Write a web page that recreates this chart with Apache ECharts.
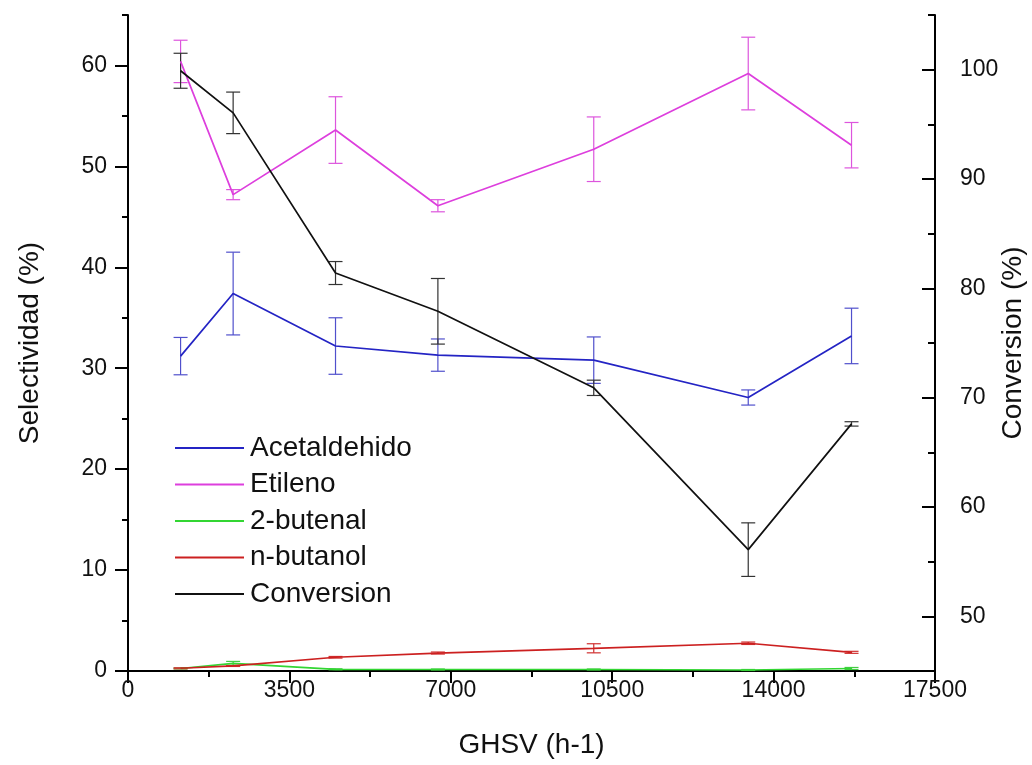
<!DOCTYPE html>
<html>
<head>
<meta charset="utf-8">
<script src="https://cdn.jsdelivr.net/npm/echarts@6/dist/echarts.min.js"></script>
<style>html,body{margin:0;padding:0;background:#fff;}#c{width:1032px;height:765px;}</style>
</head>
<body>
<div id="c"></div>
<script>
const ghsv = [1140, 2280, 4500, 6720, 10100, 13450, 15690];
const acetaldehido = [31.2, 37.4, 32.2, 31.3, 30.8, 27.1, 33.2];
const acetaldehidoErr = [1.85, 4.1, 2.8, 1.6, 2.3, 0.75, 2.75];
const etileno = [60.4, 47.2, 53.6, 46.1, 51.7, 59.2, 52.1];
const etilenoErr = [2.1, 0.5, 3.3, 0.6, 3.2, 3.6, 2.25];
const butenal = [0.25, 0.75, 0.17, 0.15, 0.15, 0.1, 0.25];
const butenalErr = [0.05, 0.2, 0.05, 0.05, 0.05, 0.05, 0.1];
const butanol = [0.27, 0.5, 1.36, 1.78, 2.25, 2.75, 1.85];
const butanolErr = [0.05, 0.05, 0.08, 0.1, 0.45, 0.12, 0.1];
const conversion = [99.9, 96.05, 81.4, 77.9, 70.9, 56.1, 67.6];
const conversionErr = [1.6, 1.9, 1.05, 3.0, 0.7, 2.45, 0.2];

const leftMajor = [0, 10, 20, 30, 40, 50, 60];
const leftMinor = [5, 15, 25, 35, 45, 55, 65];
const rightMajor = [50, 60, 70, 80, 90, 100];
const rightMinor = [45, 55, 65, 75, 85, 95, 105];

const FONT = 'Liberation Sans, Arial, sans-serif';

function pairs(vals) { return ghsv.map((x, i) => [x, vals[i]]); }
function triples(vals, errs) { return ghsv.map((x, i) => [x, vals[i], errs[i]]); }

function lineSeries(name, vals, color, yIdx, z) {
  return {
    name: name, type: 'line', yAxisIndex: yIdx, data: pairs(vals),
    symbol: 'none', lineStyle: { color: color, width: 1.7 }, itemStyle: { color: color },
    z: z, animation: false
  };
}
function errSeries(name, vals, errs, color, yIdx, z) {
  return {
    name: name + ' err', type: 'custom', yAxisIndex: yIdx, data: triples(vals, errs),
    encode: { x: 0, y: 1 }, z: z, animation: false, silent: true,
    renderItem: function (params, api) {
      const x = api.value(0), y = api.value(1), e = api.value(2);
      const t = api.coord([x, y + e]);
      const b = api.coord([x, y - e]);
      const h = 7;
      const st = { stroke: color, lineWidth: 1.2 };
      return {
        type: 'group',
        children: [
          { type: 'line', shape: { x1: t[0], y1: t[1], x2: b[0], y2: b[1] }, style: st },
          { type: 'line', shape: { x1: t[0] - h, y1: t[1], x2: t[0] + h, y2: t[1] }, style: st },
          { type: 'line', shape: { x1: b[0] - h, y1: b[1], x2: b[0] + h, y2: b[1] }, style: st }
        ]
      };
    }
  };
}

const cBlue = '#2424c4', cMag = '#dd3fdd', cGreen = '#33d633', cRed = '#cc2020', cBlack = '#111111';
const axisLineStyle = { color: '#000', width: 2 };

const chart = echarts.init(document.getElementById('c'));
chart.setOption({
  backgroundColor: '#ffffff',
  animation: false,
  grid: { left: 128, right: 97, top: 15, bottom: 94, containLabel: false, outerBoundsMode: 'none' },
  legend: {
    left: 170, top: 428, orient: 'vertical', icon: 'rect',
    itemWidth: 69, itemHeight: 2, itemGap: 6.5,
    textStyle: { fontFamily: FONT, fontSize: 28, lineHeight: 30, color: '#111', padding: [0, 0, 0, 1] },
    data: ['Acetaldehido', 'Etileno', '2-butenal', 'n-butanol', 'Conversion']
  },
  xAxis: {
    type: 'value', min: 0, max: 17500, interval: 3500,
    name: 'GHSV (h-1)', nameLocation: 'middle', nameGap: 60, nameMoveOverlap: false,
    nameTextStyle: { fontFamily: FONT, fontSize: 28, color: '#111', verticalAlign: 'top' },
    axisLine: { show: true, onZero: false, lineStyle: axisLineStyle },
    axisTick: { show: true, length: 12, lineStyle: { color: '#000', width: 2 } },
    minorTick: { show: true, splitNumber: 2, length: 6, lineStyle: { color: '#000', width: 2 } },
    axisLabel: { fontFamily: FONT, fontSize: 23, color: '#111', margin: 8, formatter: function (v) { return String(v); } },
    splitLine: { show: false }
  },
  yAxis: [
    {
      type: 'value', min: 0, max: 65, position: 'left',
      name: 'Selectividad (%)', nameLocation: 'middle', nameGap: 84, nameRotate: 90, nameMoveOverlap: false,
      nameTextStyle: { fontFamily: FONT, fontSize: 28, color: '#111' },
      axisLine: { show: true, onZero: false, lineStyle: axisLineStyle },
      axisTick: { show: true, length: 13, customValues: leftMajor, lineStyle: { color: '#000', width: 2 } },
      axisLabel: { fontFamily: FONT, fontSize: 23, color: '#111', margin: 21, customValues: leftMajor },
      splitLine: { show: false }
    },
    {
      type: 'value', min: 45, max: 105, position: 'right',
      name: 'Conversion (%)', nameLocation: 'middle', nameGap: 64, nameRotate: 90, nameMoveOverlap: false,
      nameTextStyle: { fontFamily: FONT, fontSize: 28, color: '#111' },
      axisLine: { show: true, onZero: false, lineStyle: axisLineStyle },
      axisTick: { show: true, inside: true, length: 13, customValues: rightMajor, lineStyle: { color: '#000', width: 2 } },
      axisLabel: { fontFamily: FONT, fontSize: 23, color: '#111', margin: 25, customValues: rightMajor },
      splitLine: { show: false }
    },
    {
      type: 'value', min: 0, max: 65, position: 'left',
      axisLine: { show: false },
      axisTick: { show: true, length: 6, customValues: leftMinor, lineStyle: { color: '#000', width: 2 } },
      axisLabel: { show: false },
      splitLine: { show: false }
    },
    {
      type: 'value', min: 45, max: 105, position: 'right',
      axisLine: { show: false },
      axisTick: { show: true, inside: true, length: 7, customValues: rightMinor, lineStyle: { color: '#000', width: 2 } },
      axisLabel: { show: false },
      splitLine: { show: false }
    }
  ],
  series: [
    errSeries('Acetaldehido', acetaldehido, acetaldehidoErr, '#5050cc', 0, 2),
    errSeries('Etileno', etileno, etilenoErr, '#dd55dd', 0, 2),
    errSeries('2-butenal', butenal, butenalErr, '#44cc44', 0, 2),
    errSeries('n-butanol', butanol, butanolErr, '#d03030', 0, 2),
    errSeries('Conversion', conversion, conversionErr, '#333333', 1, 2),
    lineSeries('Acetaldehido', acetaldehido, cBlue, 0, 3),
    lineSeries('Etileno', etileno, cMag, 0, 3),
    lineSeries('2-butenal', butenal, cGreen, 0, 3),
    lineSeries('n-butanol', butanol, cRed, 0, 4),
    lineSeries('Conversion', conversion, cBlack, 1, 4)
  ]
});
</script>
</body>
</html>
